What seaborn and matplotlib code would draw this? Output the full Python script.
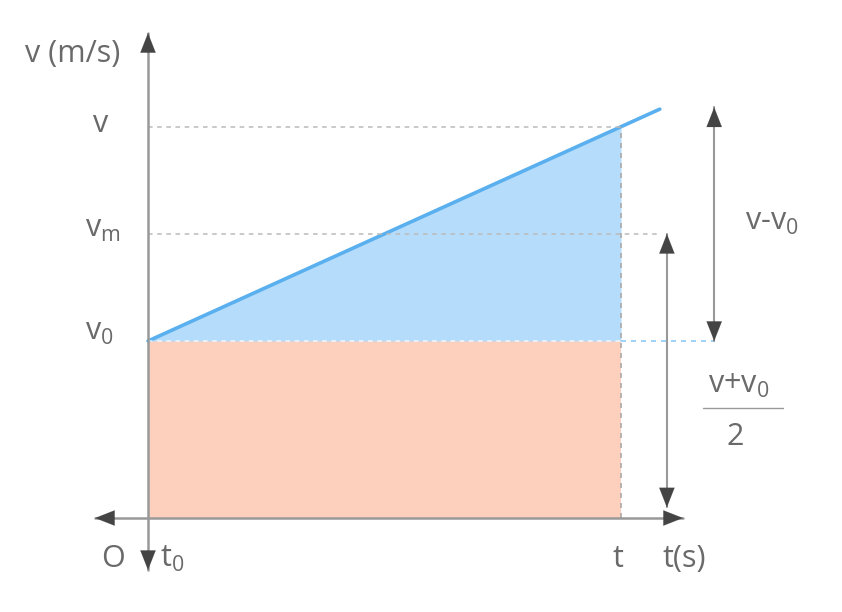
#v-t diagram of uniformly accelerated motion
import numpy as np
import pandas as pd
import matplotlib.pyplot as plt
import seaborn as sns
from matplotlib.lines import Line2D

#values (t in units of t, v in units of v0)
t_fill = [0.0, 1.0]
v_fill_top = [1.0, 2.21]
t_line = [0.0, 1.082]
v_line = [1.0, 2.31]
t_end = 1.0
v0 = 1.0
vm = 1.605
v_end = 2.21

sns.set_style("white")
plt.rcParams['font.family'] = ['Open Sans', 'DejaVu Sans']
plt.rcParams['mathtext.fontset'] = 'custom'
plt.rcParams['mathtext.rm'] = 'Open Sans'
plt.rcParams['mathtext.it'] = 'Open Sans'
plt.rcParams['mathtext.default'] = 'regular'

fig = plt.figure(figsize=(8.42, 6.12), dpi=100)
ax = fig.add_axes([0, 0, 1, 1])
ax.set_xlim(-0.3129, 1.4672)
ax.set_ylim(-0.531, 2.9266)
ax.axis('off')

#filled areas
ax.fill_between(t_fill, 0, v0, color='#fdd0bd', lw=0)
ax.fill_between(t_fill, v0, v_fill_top, color='#b5dcfb', lw=0)

#velocity line
sns.lineplot(x=t_line, y=v_line, color='#5ab0ee', lw=2.6, ax=ax)

#dashed guide lines
dash = (0, (3, 3))
ax.plot([0, t_end], [v_end, v_end], ls=dash, color='#bbbbbb', lw=1.1)
ax.plot([0, 1.076], [vm, vm], ls=dash, color='#bbbbbb', lw=1.1)
ax.plot([t_end, t_end], [0, v_end], ls=dash, color='#aaaaaa', lw=1.2)
ax.plot([0, t_end], [v0, v0], ls=dash, color='white', lw=1.1, alpha=0.8)
ax.plot([t_end, 1.199], [v0, v0], ls=dash, color='#8ccbf6', lw=1.2)


def head(tip, dx, dy):
    #dark arrow head at tip, pointing in direction (dx, dy)
    ax.annotate('', xy=tip, xytext=(-dx * 20, -dy * 20), textcoords='offset pixels',
                arrowprops=dict(arrowstyle='-|>,head_length=1.4,head_width=0.55',
                                color='#444444', lw=0.1, shrinkA=0, shrinkB=0))


#axes with arrows
ax.plot([0, 0], [-0.294, 2.74], color='#999999', lw=1.8)
ax.plot([-0.112, 1.131], [0, 0], color='#999999', lw=1.8)
head((0, 2.74), 0, 1)
head((0, -0.294), 0, -1)
head((-0.112, 0), -1, 0)
head((1.131, 0), 1, 0)

#double arrows on the right
ax.plot([1.197, 1.197], [v0, 2.32], color='#999999', lw=1.5)
head((1.197, 2.32), 0, 1)
head((1.197, v0), 0, -1)
ax.plot([1.097, 1.097], [0.06, vm], color='#999999', lw=1.5)
head((1.097, vm), 0, 1)
head((1.097, 0.06), 0, -1)

#labels
fs = 22
col = '#6a6a6a'


def label(text, xy, dx, dy, ha='left'):
    ax.annotate(text, xy=xy, xytext=(dx, dy), textcoords='offset pixels',
                ha=ha, va='baseline', fontsize=fs, color=col)


label('v (m/s)', (0, 2.74), -123, -29)
label('v', (0, v_end), -47, -5, ha='center')
label('v$_m$', (0, vm), -63, -3)
label('v$_0$', (0, v0), -63, 1)
label('O', (0, 0), -35, -49, ha='center')
label('t$_0$', (0, 0), 12, -49)
label('t', (t_end, 0), -3, -49, ha='center')
label('t(s)', (t_end, 0), 41, -49)
label('v-v$_0$', (t_end, vm), 124, 4)
label('v+v$_0$', (t_end, v0), 87, -52)
label('2', (t_end, v0), 114, -104, ha='center')
fig.add_artist(Line2D([703 / 842, 783 / 842], [1 - 408 / 612, 1 - 408 / 612],
                      transform=fig.transFigure, color='#999999', lw=1.0))

plt.savefig('out.png', dpi=100)
